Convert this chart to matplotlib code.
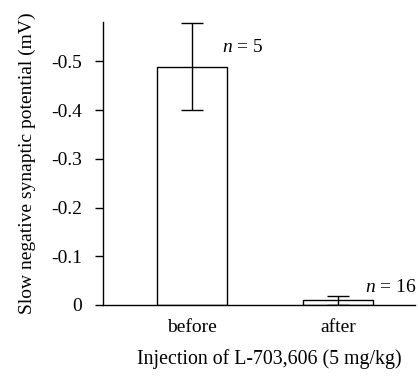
import matplotlib
matplotlib.use("Agg")
import matplotlib.pyplot as plt

plt.rcParams["font.family"] = ["Liberation Serif", "DejaVu Serif"]
plt.rcParams["mathtext.fontset"] = "custom"
plt.rcParams["mathtext.rm"] = "Liberation Serif"
plt.rcParams["mathtext.it"] = "Liberation Serif:italic"

# data (mV, plotted as magnitude; tick labels carry the sign)
groups   = ["before", "after"]
means    = [0.489, 0.010]
err_up   = [0.090, 0.009]
err_down = [0.089, 0.010]
n_labels = ["$n$ = 5", "$n$ = 16"]
yticks   = [0, 0.1, 0.2, 0.3, 0.4, 0.5]
ytick_labels = ["0", "-0.1", "-0.2", "-0.3", "-0.4", "-0.5"]

fig = plt.figure(figsize=(4.18, 3.77), dpi=100)
ax = fig.add_axes([0.246, 0.191, 0.747, 0.751])

x = list(range(len(groups)))
ax.bar(x, means, width=0.48, color="white", edgecolor="black", linewidth=1.0)
ax.errorbar(x, means, yerr=[err_down, err_up], fmt="none", ecolor="black",
            elinewidth=1.0, capsize=8, capthick=1.0)

# n labels next to the error bars
ax.text(0.205, 0.528, n_labels[0], fontsize=14, ha="left", va="center")
ax.text(1.185, 0.036, n_labels[1], fontsize=14, ha="left", va="center")

ax.set_xlim(-0.61, 1.527)
ax.set_ylim(0, 0.581)
ax.set_xticks(x)
ax.set_xticklabels(groups, fontsize=14)
ax.set_yticks(yticks)
ax.set_yticklabels(ytick_labels, fontsize=14)
ax.tick_params(axis="x", length=0, pad=10)
ax.tick_params(axis="y", length=6, width=1.0, pad=9)
ax.spines["top"].set_visible(False)
ax.spines["right"].set_visible(False)
ax.spines["left"].set_linewidth(1.0)
ax.spines["bottom"].set_linewidth(1.0)

ax.set_ylabel("Slow negative synaptic potential (mV)", fontsize=14, labelpad=11)
ax.set_xlabel("Injection of L-703,606 (5 mg/kg)", fontsize=14.3)
ax.xaxis.set_label_coords(0.534, -0.155)

fig.savefig("out.png", dpi=100)
